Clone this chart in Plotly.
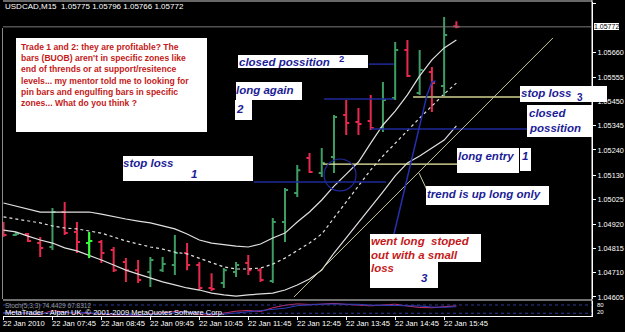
import plotly.graph_objects as go

# ---------------- data ----------------
times = ["06:45", "07:00", "07:15", "07:30", "07:45", "08:00", "08:15", "08:30", "08:45", "09:00",
         "09:15", "09:30", "09:45", "10:00", "10:15", "10:30", "10:45", "11:00", "11:15", "11:30",
         "11:45", "12:00", "12:15", "12:30", "12:45", "13:00", "13:15", "13:30", "13:45", "14:00",
         "14:15", "14:30", "14:45", "15:00", "15:15", "15:30", "15:45", "16:00"]

opens = [1.04912, 1.04873, 1.04877, 1.04838, 1.04821, 1.04972, 1.04886, 1.04838, 1.04843, 1.04808,
         1.04756, 1.04721, 1.04713, 1.04721, 1.04743, 1.04795, 1.04743, 1.04644, 1.04665, 1.04713,
         1.04752, 1.04721, 1.04674, 1.04929, 1.05054, 1.05205, 1.05141, 1.05210, 1.05391, 1.05361,
         1.05365, 1.05335, 1.05465, 1.05672, 1.05486, 1.05577, 1.05516, 1.05775]
highs = [1.04929, 1.04886, 1.04881, 1.04864, 1.04989, 1.05015, 1.04929, 1.04886, 1.04851, 1.04821,
         1.04773, 1.04765, 1.04778, 1.04778, 1.04873, 1.04838, 1.04756, 1.04708, 1.04730, 1.04756,
         1.04786, 1.04730, 1.04946, 1.05076, 1.05175, 1.05227, 1.05249, 1.05391, 1.05456, 1.05421,
         1.05478, 1.05534, 1.05707, 1.05715, 1.05672, 1.05599, 1.05815, 1.05796]
lows = [1.04864, 1.04868, 1.04843, 1.04778, 1.04808, 1.04873, 1.04795, 1.04773, 1.04752, 1.04713,
        1.04670, 1.04665, 1.04648, 1.04713, 1.04700, 1.04721, 1.04635, 1.04631, 1.04644, 1.04691,
        1.04700, 1.04670, 1.04665, 1.04843, 1.05037, 1.05141, 1.05123, 1.05141, 1.05305, 1.05305,
        1.05326, 1.05318, 1.05456, 1.05555, 1.05478, 1.05404, 1.05469, 1.05766]
closes = [1.04873, 1.04877, 1.04847, 1.04817, 1.04972, 1.04881, 1.04843, 1.04847, 1.04795, 1.04721,
          1.04721, 1.04678, 1.04765, 1.04747, 1.04795, 1.04743, 1.04644, 1.04640, 1.04721, 1.04743,
          1.04721, 1.04678, 1.04929, 1.05067, 1.05153, 1.05145, 1.05184, 1.05382, 1.05357, 1.05352,
          1.05335, 1.05456, 1.05672, 1.05560, 1.05586, 1.05529, 1.05737, 1.05772]
highlight_bar = 7

bb_upper = [1.05011, 1.04998, 1.04985, 1.04972, 1.04972, 1.04972, 1.04972, 1.04972, 1.04963, 1.04951,
            1.04942, 1.04933, 1.04925, 1.04912, 1.04899, 1.04877, 1.04851, 1.04838, 1.04830, 1.04825,
            1.04821, 1.04834, 1.04860, 1.04881, 1.04929, 1.04972, 1.05024, 1.05084, 1.05136, 1.05188,
            1.05270, 1.05348, 1.05408, 1.05478, 1.05560, 1.05629, 1.05681, 1.05715]
bb_middle = [1.04951, 1.04942, 1.04933, 1.04925, 1.04912, 1.04903, 1.04899, 1.04890, 1.04881, 1.04864,
             1.04847, 1.04834, 1.04821, 1.04812, 1.04799, 1.04791, 1.04773, 1.04752, 1.04735, 1.04726,
             1.04726, 1.04730, 1.04747, 1.04773, 1.04804, 1.04838, 1.04877, 1.04946, 1.05015, 1.05084,
             1.05154, 1.05214, 1.05270, 1.05326, 1.05378, 1.05430, 1.05482, 1.05529]
bb_lower = [1.04894, 1.04886, 1.04868, 1.04851, 1.04838, 1.04817, 1.04804, 1.04786, 1.04765, 1.04743,
            1.04721, 1.04704, 1.04687, 1.04670, 1.04657, 1.04644, 1.04635, 1.04622, 1.04614, 1.04609,
            1.04614, 1.04618, 1.04622, 1.04635, 1.04657, 1.04683, 1.04721, 1.04795, 1.04860, 1.04929,
            1.04994, 1.05059, 1.05128, 1.05184, 1.05214, 1.05249, 1.05283, 1.05344]

stoch_main = [22, 28, 18, 12, 40, 30, 18, 20, 14, 8, 9, 6, 16, 24, 32, 26, 10, 7, 22, 35,
              40, 32, 60, 78, 88, 84, 86, 92, 84, 80, 74, 80, 86, 72, 62, 60, 68, 74.4429]
stoch_signal = [25, 26, 23, 19, 23, 27, 29, 23, 17, 14, 10, 8, 10, 15, 24, 27, 23, 14, 13, 21,
                32, 36, 44, 57, 75, 83, 86, 87, 87, 85, 79, 78, 80, 79, 73, 65, 63, 67.8312]
stoch_levels = [80, 20]

price_ticks = [1.05875, 1.05660, 1.05555, 1.05450, 1.05345, 1.05240, 1.05130, 1.05025,
               1.04920, 1.04815, 1.04710, 1.04605]
price_tick_text = ["1.05875", "1.05660", "1.05555", "1.05450", "1.05345", "1.05240", "1.05130",
                   "1.05025", "1.04920", "1.04815", "1.04710", "1.04605"]
current_price = 1.05772

time_tick_idx = [0, 4, 8, 12, 16, 20, 24, 28, 32, 36]
time_tick_text = ["22 Jan 2010", "22 Jan 07:45", "22 Jan 08:45", "22 Jan 09:45", "22 Jan 10:45",
                  "22 Jan 11:45", "22 Jan 12:45", "22 Jan 13:45", "22 Jan 14:45", "22 Jan 15:45"]

# hand-drawn objects (bar index, price)
stop_loss_1 = (20.47, 31.25, 1.05102)
long_entry_1 = (26.1, 37.1, 1.05179)
long_again_2 = (26.18, 31.9, 1.05460)
closed_pos_2 = (29.86, 31.9, 1.05611)
closed_pos = (30.02, 43.1, 1.05331)
stop_loss_3 = (33.46, 42.44, 1.05469)
trend_line = ((23.73, 1.04605), (44.89, 1.05724))
trend_pointer = ((33.95, 1.05140), (35.09, 1.05011))
circle_box = ((26.19, 1.05063), (28.8, 1.05201))
trade3_line = [(31.9, 1.04877), (34.6, 1.05478), (35.0, 1.05534), (35.3, 1.05538)]

# ---------------- styling ----------------
FONT = "Liberation Sans, Arial, sans-serif"
GREEN = "#3e9d63"
RED = "#e8294e"
LIME = "#39ff39"
BAND = "#e0e0e0"
NAVY = "#1c1c96"
LINEBLUE = "#1f2a9c"
REDTXT = "#c41a1a"
LBL = 11.5

W, H = 625, 332
ML, MR, MT, MB = 3, 33, 2, 16
PW, PH = W - ML - MR, H - MT - MB


def px(x):
    return (x - ML) / PW


def py(y):
    return (H - MB - y) / PH


idx = list(range(len(times)))

fig = go.Figure()
fig.add_trace(go.Scatter(x=idx, y=bb_upper, mode="lines", line=dict(color=BAND, width=1.2), hoverinfo="skip"))
fig.add_trace(go.Scatter(x=idx, y=bb_middle, mode="lines", line=dict(color=BAND, width=1.2, dash="3px,3px"),
                         hoverinfo="skip"))
fig.add_trace(go.Scatter(x=idx, y=bb_lower, mode="lines", line=dict(color=BAND, width=1.2), hoverinfo="skip"))
fig.add_trace(go.Ohlc(x=idx, open=opens, high=highs, low=lows, close=closes, tickwidth=0.25,
                      increasing=dict(line=dict(color=GREEN, width=2)),
                      decreasing=dict(line=dict(color=RED, width=2))))
k = highlight_bar
tw = 0.25
fig.add_trace(go.Scatter(x=[k - tw, k, None, k, k, None, k, k + tw],
                         y=[opens[k], opens[k], None, highs[k], lows[k], None, closes[k], closes[k]],
                         mode="lines", line=dict(color=LIME, width=2), hoverinfo="skip"))
fig.add_trace(go.Scatter(x=idx, y=stoch_main, yaxis="y2", mode="lines", line=dict(color="#c8306a", width=1)))
fig.add_trace(go.Scatter(x=idx, y=stoch_signal, yaxis="y2", mode="lines", line=dict(color="#2f3fbf", width=1)))

shapes = []
# frame lines
shapes.append(dict(type="line", xref="paper", yref="paper", x0=0, x1=1, y0=py(1), y1=py(1),
                   line=dict(color="#cfcfcf", width=1)))
shapes.append(dict(type="line", xref="paper", yref="paper", x0=0, x1=1, y0=py(300), y1=py(300),
                   line=dict(color="#e0e0e0", width=1)))
shapes.append(dict(type="line", xref="paper", yref="paper", x0=px(2.5), x1=px(2.5), y0=py(28), y1=py(299),
                   line=dict(color="#8a8a8a", width=1)))
shapes.append(dict(type="line", xref="paper", yref="paper", x0=1, x1=1, y0=0, y1=py(0),
                   line=dict(color="#ffffff", width=1)))
# current price line
shapes.append(dict(type="line", xref="paper", yref="y", x0=0, x1=1, y0=current_price, y1=current_price,
                   line=dict(color="#7a7a7a", width=1)))
# stochastic levels
for lv in stoch_levels:
    shapes.append(dict(type="line", xref="paper", yref="y2", x0=0, x1=1, y0=lv, y1=lv,
                       line=dict(color="#2a3a9a", width=1, dash="dot")))


def hline(seg, color, width=1.5):
    x0, x1, yv = seg
    shapes.append(dict(type="line", xref="x", yref="y", x0=x0, x1=x1, y0=yv, y1=yv,
                       line=dict(color=color, width=width)))


hline(stop_loss_1, LINEBLUE)
hline(long_again_2, LINEBLUE)
hline(closed_pos_2, LINEBLUE)
hline(closed_pos, LINEBLUE)
hline(long_entry_1, "#f0f0a8", 1.2)
hline(stop_loss_3, "#9c9c6c", 2)
(tx0, ty0), (tx1, ty1) = trend_line
shapes.append(dict(type="line", xref="x", yref="y", x0=tx0, y0=ty0, x1=tx1, y1=ty1,
                   line=dict(color="#c9c99a", width=1)))
(qx0, qy0), (qx1, qy1) = trend_pointer
shapes.append(dict(type="line", xref="x", yref="y", x0=qx0, y0=qy0, x1=qx1, y1=qy1,
                   line=dict(color="#c9c99a", width=1)))
(cx0, cy0), (cx1, cy1) = circle_box
shapes.append(dict(type="circle", xref="x", yref="y", x0=cx0, y0=cy0, x1=cx1, y1=cy1,
                   line=dict(color=LINEBLUE, width=1.2)))
path = "M " + " L ".join(f"{a},{b}" for a, b in trade3_line)
shapes.append(dict(type="path", xref="x", yref="y", path=path, line=dict(color="#2430b0", width=1.5)))


def box(x0, x1, y0, y1):
    shapes.append(dict(type="rect", xref="paper", yref="paper", x0=px(x0), x1=px(x1), y0=py(y1), y1=py(y0),
                       fillcolor="white", line=dict(width=0)))


box(16, 207, 38, 132)
box(238, 368, 55, 68)
box(236, 302, 82, 100)
box(235, 252, 100, 120)
box(123, 253, 156, 181)
box(457, 519, 148, 173)
box(520, 531, 148, 171)
box(426, 549, 186, 205)
box(370, 481, 234, 262)
box(370, 438, 262, 288)
box(520, 607, 86, 102)
box(527, 592, 105, 137)

anns = []


def text(x, y, s, color, size, bold=True, italic=False, bg=None):
    t = s
    if italic:
        t = "<i>" + t + "</i>"
    if bold:
        t = "<b>" + t + "</b>"
    d = dict(x=px(x), y=py(y), xref="paper", yref="paper", text=t, showarrow=False, xanchor="left",
             yanchor="middle", borderpad=0, borderwidth=0, font=dict(family=FONT, size=size, color=color))
    if bg:
        d["bgcolor"] = bg
    anns.append(d)


text(5, 7, "USDCAD,M15&nbsp;&nbsp;1.05775 1.05796 1.05766 1.05772", "white", 8, bold=False)

big_lines = ["Trade 1 and 2: they are profitable? The",
             "bars (BUOB) aren't in specific zones like",
             "end of thrends or at support/resitence",
             "levels... my mentor told me to looking for",
             "pin bars and engulfing bars in specific",
             "zones... What do you think ?"]
for i, s in enumerate(big_lines):
    text(21, 47 + i * 11.2, s, REDTXT, 8.6)

text(239, 62, "closed possition", NAVY, LBL, italic=True)
text(339, 59, "2", NAVY, 9.5)
text(236, 90, "long again", NAVY, LBL, italic=True)
text(236, 109, "2", NAVY, LBL, italic=True)
text(123, 163, "stop loss", NAVY, LBL, italic=True)
text(191, 174, "1", NAVY, LBL, italic=True)
text(458, 156, "long entry", NAVY, LBL, italic=True)
text(522, 156, "1", NAVY, LBL, italic=True)
text(427, 194, "trend is up long only", NAVY, LBL, italic=True)
text(371, 241, "went long&nbsp;&nbsp;stoped", REDTXT, LBL, italic=True)
text(371, 255, "out with a small", REDTXT, LBL, italic=True)
text(371, 268, "loss", REDTXT, LBL, italic=True)
text(421, 278, "3", NAVY, LBL, italic=True)
text(521, 93, "stop loss", NAVY, LBL, italic=True)
text(577, 97, "3", NAVY, 10)
text(529, 113, "closed", NAVY, LBL, italic=True)
text(529, 128, "possition", NAVY, LBL, italic=True)

text(5, 306, "Stoch(5,3,3) 74.4429 67.8312", "#9a9a9a", 6.5, bold=False)
text(5, 312, "MetaTrader - Alpari UK, © 2001-2009 MetaQuotes Software Corp.", "white", 7.5, bold=False)
text(597, 305, "80", "white", 6, bold=False)
text(597, 312, "20", "white", 6, bold=False)

# current price label
anns.append(dict(x=1, y=current_price, xref="paper", yref="y", text="1.05772", showarrow=False,
                 xanchor="left", yanchor="middle", xshift=2, bgcolor="white", borderpad=0, borderwidth=0,
                 font=dict(family=FONT, size=7, color="black")))

# time labels
for ti, tt in zip(time_tick_idx, time_tick_text):
    anns.append(dict(x=ti, y=py(323), xref="x", yref="paper", text=tt, showarrow=False, xanchor="left",
                     yanchor="middle", xshift=0, borderpad=0, borderwidth=0,
                     font=dict(family=FONT, size=7.6, color="white")))

fig.update_layout(
    width=W, height=H, margin=dict(l=ML, r=MR, t=MT, b=MB),
    paper_bgcolor="black", plot_bgcolor="black", showlegend=False,
    shapes=shapes, annotations=anns,
    xaxis=dict(range=[-0.04, 48.08], anchor="y2", showgrid=False, zeroline=False,
               tickvals=time_tick_idx, showticklabels=False, ticks="outside", ticklen=3,
               tickcolor="white", showline=True, linecolor="white", linewidth=1,
               rangeslider=dict(visible=False), fixedrange=True),
    yaxis=dict(domain=[py(299), 1], range=[1.045963, 1.058793], side="right", anchor="x",
               tickvals=price_ticks, ticktext=price_tick_text, ticks="outside", ticklen=3,
               tickcolor="white", tickfont=dict(family=FONT, size=7.3, color="white"),
               showline=True, linecolor="white", showgrid=False, zeroline=False),
    yaxis2=dict(domain=[0, py(301)], range=[0, 109], side="right", anchor="x", showticklabels=False,
                showgrid=False, zeroline=False, showline=True, linecolor="white", ticks=""),
)

fig.write_html("out.html")
